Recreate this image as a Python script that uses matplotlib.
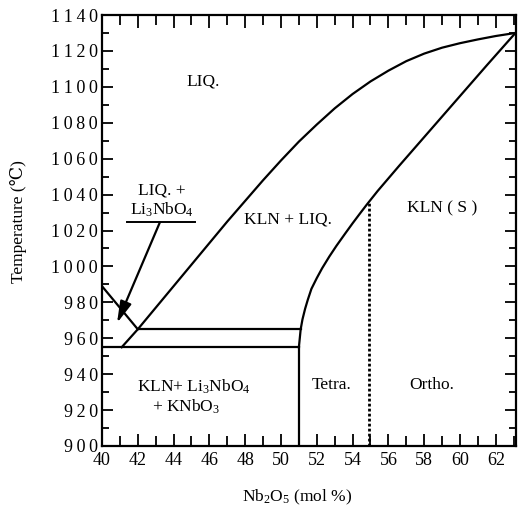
import matplotlib
matplotlib.use("Agg")
import matplotlib.pyplot as plt
from matplotlib.ticker import MultipleLocator, FuncFormatter

# ---- data ----
liq_left_x = [40.0, 42.0]
liq_left_T = [989, 965]

liquidus_x = [41.1, 42.0, 43.0, 44.0, 45.0, 46.0, 47.0, 48.0, 49.0, 50.0, 51.0, 52.0, 53.0,
              54.0, 55.0, 56.0, 57.0, 58.0, 59.0, 60.0, 61.0, 62.0, 63.1]
liquidus_T = [955, 965, 977, 989, 1001, 1013, 1025, 1036.5, 1048, 1059, 1069.5, 1079, 1088,
              1096, 1103, 1109, 1114.3, 1118.5, 1121.8, 1124.3, 1126.4, 1128.3, 1130]

solidus_x = [51.0, 51.05, 51.1, 51.2, 51.35, 51.5, 51.7, 52.0, 52.3, 52.7, 53.1, 53.6, 54.0,
             54.4, 54.8, 55.4, 56.0, 56.6, 57.3, 58.0, 58.7, 59.4, 60.1, 60.8, 61.5, 62.3, 63.1]
solidus_T = [955, 960, 965, 970.5, 976.5, 981.5, 987.5, 993.5, 999, 1005.5, 1011.5, 1018.5, 1024,
             1029.3, 1034.5, 1042, 1049, 1056, 1064, 1072, 1080, 1088, 1096, 1104, 1112, 1121, 1130]

eut_upper_x = [42.0, 51.1]
eut_upper_T = [965, 965]
eut_lower_x = [40.0, 51.0]
eut_lower_T = [955, 955]
vert_x = [51.0, 51.0]
vert_T = [900, 955]

dotted_x = [54.9, 54.9]
dotted_T = [900, 1035.5]

arrow_from = (43.24, 1024.7)
arrow_to = (40.84, 968.5)
underline_x = [41.4, 45.2]
underline_T = [1024.7, 1024.7]

labels = [
    ("LIQ.", 45.64, 1102.7),
    ("LIQ. +", 43.35, 1042.5),
    ("Li$_\\mathrm{3}$NbO$_\\mathrm{4}$", 43.35, 1031.4),
    ("KLN + LIQ.", 50.4, 1026.0),
    ("KLN ( S )", 59.0, 1032.5),
    ("Tetra.", 52.8, 934.0),
    ("Ortho.", 58.4, 934.0),
    ("KLN+ Li$_\\mathrm{3}$NbO$_\\mathrm{4}$", 45.14, 932.8),
    ("+ KNbO$_\\mathrm{3}$", 44.7, 921.6),
]

xticks = list(range(40, 63, 2))
yticks = list(range(900, 1141, 20))

# ---- style ----
plt.rcParams['font.family'] = ['Liberation Serif', 'DejaVu Serif', 'Noto Sans CJK SC']
plt.rcParams['mathtext.fontset'] = 'custom'
plt.rcParams['mathtext.rm'] = 'Liberation Serif'
plt.rcParams['mathtext.it'] = 'Liberation Serif:italic'

fig = plt.figure(figsize=(5.18, 5.07), dpi=100)
ax = fig.add_axes([102/518, 1-446/507, (516-102)/518, (446-15)/507])

lw = 1.6
ax.plot(liq_left_x, liq_left_T, color='k', lw=lw)
ax.plot(liquidus_x, liquidus_T, color='k', lw=lw, solid_joinstyle='round')
ax.plot(solidus_x, solidus_T, color='k', lw=lw, solid_joinstyle='round')
ax.plot(eut_upper_x, eut_upper_T, color='k', lw=lw)
ax.plot(eut_lower_x, eut_lower_T, color='k', lw=lw)
ax.plot(vert_x, vert_T, color='k', lw=lw)
ax.plot(dotted_x, dotted_T, color='k', lw=2.0, linestyle=(0, (1, 0.8)))
ax.plot(underline_x, underline_T, color='k', lw=1.4)

ax.annotate('', xy=arrow_to, xytext=arrow_from,
            arrowprops=dict(arrowstyle='-|>,head_length=1.3,head_width=0.35',
                            lw=1.6, color='k', shrinkA=0, shrinkB=0))

for txt, x, y in labels:
    ax.text(x, y, txt, ha='center', va='center', fontsize=12.5)

ax.set_xlim(40, 63.13)
ax.set_ylim(900, 1140)
ax.set_xticks(xticks)
ax.set_yticks(yticks)
ax.xaxis.set_minor_locator(MultipleLocator(1))
ax.yaxis.set_minor_locator(MultipleLocator(10))
ax.yaxis.set_major_formatter(FuncFormatter(lambda v, p: '\u2009'.join(str(int(round(v))))))

ax.tick_params(axis='both', which='both', direction='in', top=True, right=True, width=1.3)
ax.tick_params(axis='x', which='major', length=9, labelsize=13, pad=4)
ax.tick_params(axis='x', which='minor', length=7)
ax.tick_params(axis='y', which='major', length=8, labelsize=13, pad=3)
ax.tick_params(axis='y', which='minor', length=5)
for s in ax.spines.values():
    s.set_linewidth(1.6)

ax.set_ylabel('Temperature (\u2103)', fontsize=12.5)
ax.yaxis.set_label_coords(-0.18, 0.52)
fig.text(297/518, 1-497/507, 'Nb$_\\mathrm{2}$O$_\\mathrm{5}$ (mol %)', ha='center', va='center', fontsize=12.5)

fig.savefig('out.png', dpi=100)
